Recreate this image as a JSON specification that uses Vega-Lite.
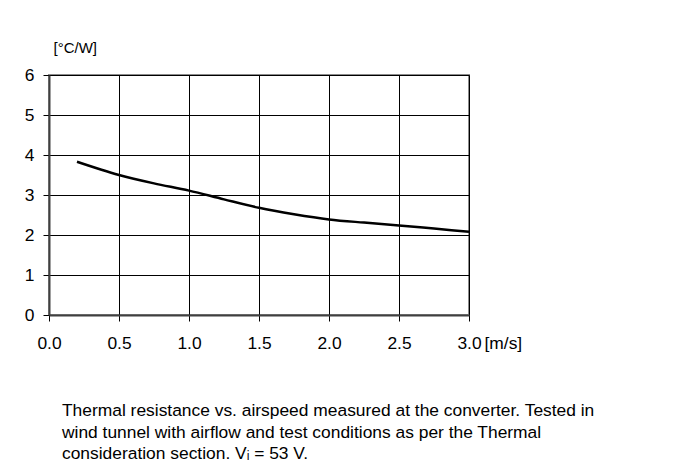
{
  "$schema": "https://vega.github.io/schema/vega-lite/v6.json",
  "width": 420,
  "height": 240,
  "autosize": {"type": "none"},
  "padding": {"left": 49, "top": 75, "right": 209, "bottom": 152},
  "background": "white",
  "title": {
    "text": [
      "Thermal resistance vs. airspeed measured at the converter. Tested in",
      "wind tunnel with airflow and test conditions as per the Thermal",
      "consideration section. Vᵢ = 53 V."
    ],
    "orient": "bottom",
    "anchor": "start",
    "frame": "group",
    "dx": 13,
    "offset": 51,
    "font": "Liberation Sans",
    "fontSize": 17.4,
    "fontWeight": "normal",
    "lineHeight": 21.5,
    "color": "black"
  },
  "config": {
    "view": {"stroke": "#8c8c8c", "strokeWidth": 2},
    "axis": {
      "labelFont": "Liberation Sans",
      "titleFont": "Liberation Sans",
      "labelColor": "black",
      "titleColor": "black",
      "labelFontSize": 17.4,
      "gridColor": "black",
      "gridWidth": 1,
      "gridOpacity": 1,
      "domainColor": "#404040",
      "domainWidth": 2,
      "tickColor": "black",
      "tickWidth": 1,
      "tickSize": 6,
      "titleFontWeight": "normal"
    }
  },
  "data": {
    "values": [
      {"speed": 0.2, "rth": 3.83},
      {"speed": 0.5, "rth": 3.5},
      {"speed": 0.75, "rth": 3.29},
      {"speed": 1.0, "rth": 3.11},
      {"speed": 1.25, "rth": 2.89},
      {"speed": 1.5, "rth": 2.68},
      {"speed": 1.75, "rth": 2.52},
      {"speed": 2.0, "rth": 2.39},
      {"speed": 2.25, "rth": 2.31},
      {"speed": 2.5, "rth": 2.24},
      {"speed": 2.75, "rth": 2.16},
      {"speed": 3.0, "rth": 2.08}
    ]
  },
  "mark": {"type": "line", "color": "black", "strokeWidth": 2.5, "interpolate": "monotone"},
  "encoding": {
    "x": {
      "field": "speed",
      "type": "quantitative",
      "scale": {"domain": [0, 3], "nice": false, "zero": false},
      "axis": {
        "values": [0, 0.5, 1, 1.5, 2, 2.5, 3],
        "format": ".1f",
        "labelPadding": 13,
        "labelFlush": false,
        "title": "[m/s]",
        "titleFontSize": 17.4,
        "titleAngle": 0,
        "titleX": 435,
        "titleY": 28,
        "titleAlign": "left",
        "titleBaseline": "middle"
      }
    },
    "y": {
      "field": "rth",
      "type": "quantitative",
      "scale": {"domain": [0, 6], "nice": false},
      "axis": {
        "values": [0, 1, 2, 3, 4, 5, 6],
        "labelPadding": 9,
        "labelFlush": false,
        "title": "[°C/W]",
        "titleFontSize": 15,
        "titleAngle": 0,
        "titleX": 4,
        "titleY": -28,
        "titleAlign": "left",
        "titleBaseline": "middle"
      }
    }
  }
}
